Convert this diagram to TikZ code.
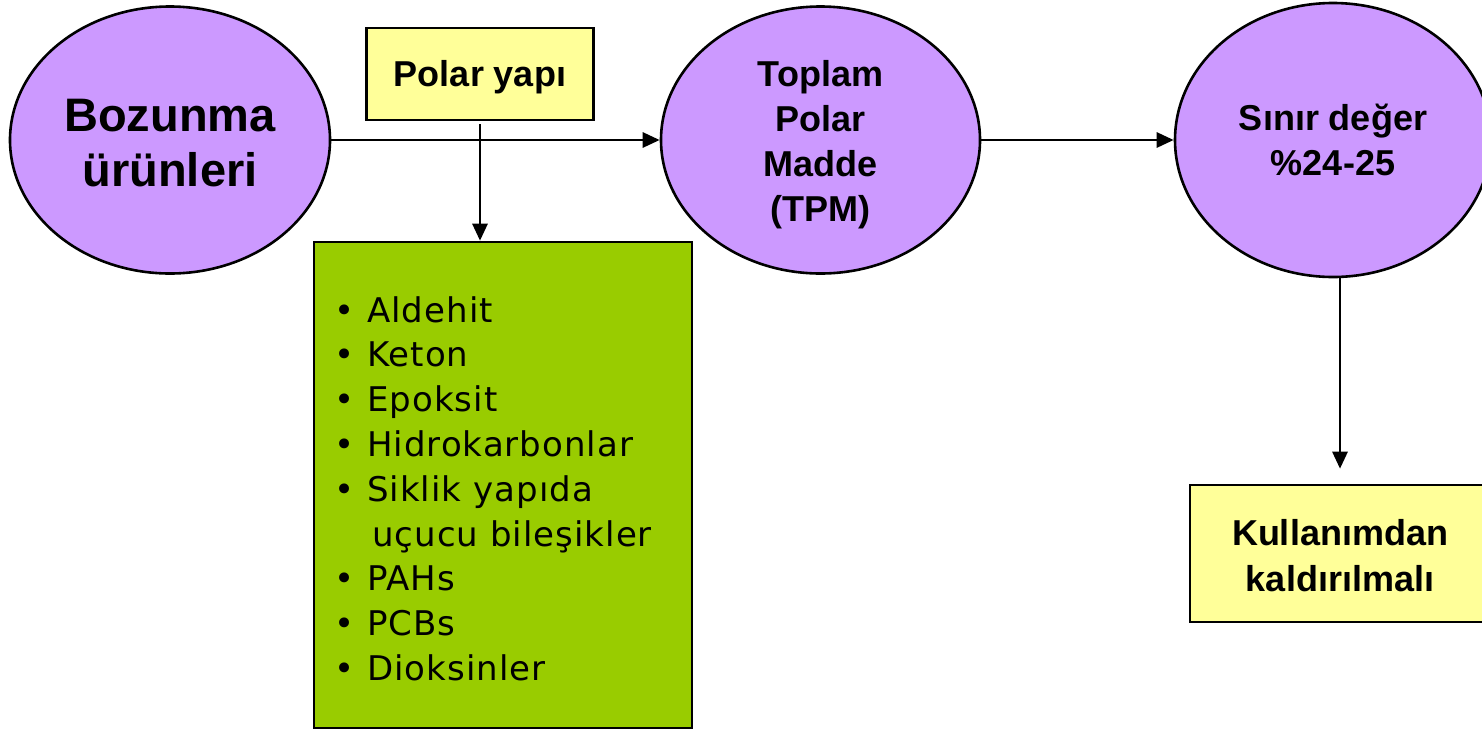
\documentclass[tikz,border=0pt]{standalone}
\usepackage{fontspec}
\setmainfont{Liberation Sans}
\newfontfamily\listfont{DejaVu Sans}[LetterSpace=3]
\usetikzlibrary{shapes.geometric,arrows.meta}
\definecolor{lilac}{HTML}{CC99FF}
\definecolor{paleyellow}{HTML}{FFFF99}
\definecolor{leafgreen}{HTML}{99CC00}
\tikzset{
  oval/.style={ellipse, draw=black, line width=2.6pt, fill=lilac, inner sep=0pt,
    align=center, font=\bfseries\fontsize{36}{45}\selectfont},
  notebox/.style={rectangle, draw=black, line width=2.6pt, fill=paleyellow, inner sep=0pt,
    align=center, font=\bfseries\fontsize{36}{46}\selectfont},
  listbox/.style={rectangle, draw=black, line width=2.6pt, fill=leafgreen, inner sep=0pt},
  arr/.style={line width=2.8pt, -{Triangle[length=17pt,width=15pt]}},
}
\begin{document}
\begin{tikzpicture}[x=1pt,y=-1pt]
  \useasboundingbox (0,0) rectangle (1482,729);
  \clip (0,0) rectangle (1482,729);

  % decomposition products and the total polar matter chain
  \node[oval, minimum width=320pt, minimum height=267pt,
        font=\bfseries\fontsize{47}{55}\selectfont] (bozunma) at (170,140)
        {\rule{0pt}{38pt}Bozunma\\ürünleri};
  \node[oval, minimum width=319pt, minimum height=267pt] (tpm) at (820.5,140)
        {\rule{0pt}{36pt}Toplam\\Polar\\Madde\\(TPM)};
  \node[oval, minimum width=316pt, minimum height=274pt] (sinir) at (1333,140)
        {Sınır değer\\\%24-25};

  % polar structure label and its list of compounds
  \node[notebox, minimum width=227pt, minimum height=92pt] (polar) at (480,74)
        {\rule{0pt}{32pt}Polar yapı};
  \node[listbox, minimum width=378pt, minimum height=486pt] (liste) at (503,485) {};
  \node[anchor=north west, inner sep=0pt, align=left,
        font=\listfont\fontsize{34}{44.8}\selectfont] (maddeler) at (334,296)
  {\makebox[33pt][l]{•}Aldehit\\
   \makebox[33pt][l]{•}Keton\\
   \makebox[33pt][l]{•}Epoksit\\
   \makebox[33pt][l]{•}Hidrokarbonlar\\
   \makebox[33pt][l]{•}Siklik yapıda\\
   \hspace*{38pt}uçucu bileşikler\\
   \makebox[33pt][l]{•}PAHs\\
   \makebox[33pt][l]{•}PCBs\\
   \makebox[33pt][l]{•}Dioksinler};

  % final decision
  \node[notebox, minimum width=300pt, minimum height=137pt] (kaldir) at (1340,553.5)
        {\rule{0pt}{30pt}Kullanımdan\\kaldırılmalı};

  % connectors
  \draw[arr] (bozunma.east) -- (tpm.west);
  \draw[arr] ([yshift=-3pt]polar.south) -- (polar.south |- liste.north);
  \draw[arr] (tpm.east) -- (sinir.west);
  \draw[arr] (kaldir.north |- sinir.south) -- ([yshift=15pt]kaldir.north);
\end{tikzpicture}
\end{document}
